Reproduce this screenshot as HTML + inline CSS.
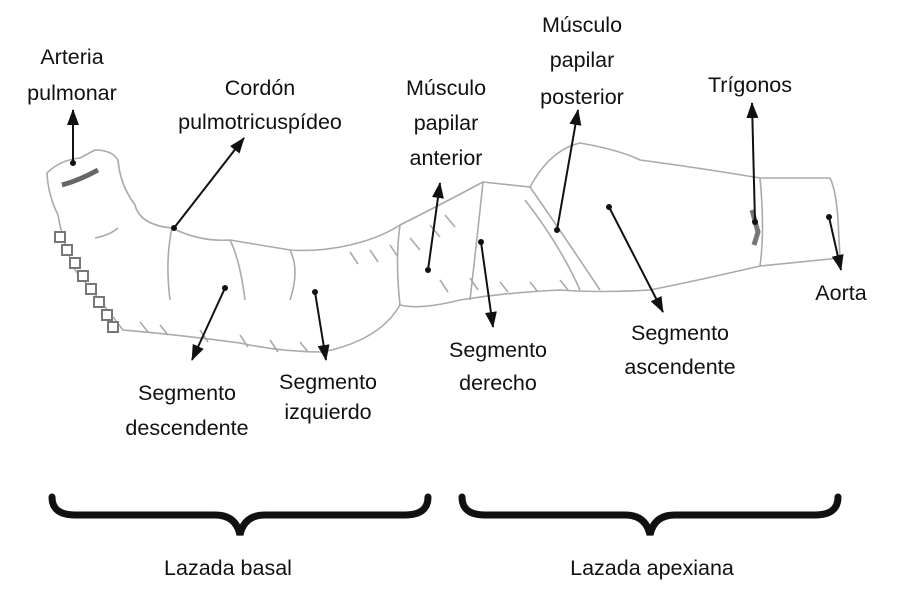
<!DOCTYPE html>
<html><head><meta charset="utf-8"><style>
html,body{margin:0;padding:0;background:#fff;}
svg{display:block;}
text{font-family:"Liberation Sans",sans-serif;font-size:21.5px;fill:#111;text-anchor:middle;}
</style></head><body>
<svg width="900" height="599" viewBox="0 0 900 599" xmlns="http://www.w3.org/2000/svg">
<defs>
<marker id="a" markerWidth="16" markerHeight="12" refX="15" refY="6" orient="auto" markerUnits="userSpaceOnUse">
<path d="M0,0 L16,6 L0,12 z" fill="#111"/></marker>
</defs>
<g fill="none" stroke="#aaa" stroke-width="1.6" stroke-linejoin="round">
<path d="M47,173 Q60,160 80,158 L95,150 Q112,150 118,160 Q120,185 135,205 Q140,225 172,228 Q200,242 230,240 Q260,245 290,250 Q320,252 350,245 Q380,238 400,225 Q440,205 483,182 L530,187 Q550,150 580,143 Q620,150 640,160 Q700,168 760,178 L830,178 Q836,190 838,220 L840,258 Q800,262 760,266 Q700,280 650,290 Q600,293 560,290 Q510,292 460,300 Q420,310 400,305 Q380,340 323,352 Q280,352 240,343 Q180,335 123,330 Q100,300 75,270 Q62,240 58,215 Q48,195 47,173 Z"/>
<path d="M760,178 Q765,230 760,266"/>
<path d="M483,182 Q478,230 470,300"/>
<path d="M400,225 Q395,260 400,305"/>
<path d="M530,187 Q560,230 600,290 M525,200 Q560,245 580,290"/>
<path d="M172,228 Q165,260 170,300 M290,250 Q300,270 290,300 M230,240 Q240,260 245,300"/>
<path d="M430,225 l10,12 M445,215 l10,12 M410,238 l10,12 M390,245 l8,12 M370,250 l8,12 M350,252 l8,12"/>
<path d="M140,322 l8,10 M160,325 l8,10 M200,330 l8,12 M240,335 l8,12 M270,340 l8,12 M300,342 l8,10 M440,280 l8,12 M470,278 l8,12 M500,282 l8,10 M530,282 l8,10 M560,280 l8,10"/>
<path d="M95,238 Q110,235 118,228"/>
</g>
<path d="M62,185 Q80,180 98,170" stroke="#666" stroke-width="5" fill="none"/>
<path d="M752,210 L758,232 L754,245" stroke="#777" stroke-width="5" fill="none"/>
<g fill="#fff" stroke="#777" stroke-width="2">
<rect x="55" y="232" width="10" height="10"/><rect x="62" y="245" width="10" height="10"/><rect x="70" y="258" width="10" height="10"/><rect x="78" y="271" width="10" height="10"/><rect x="86" y="284" width="10" height="10"/><rect x="94" y="297" width="10" height="10"/><rect x="102" y="310" width="10" height="10"/><rect x="108" y="322" width="10" height="10"/>
</g>
<g stroke="#111" stroke-width="2" fill="none" marker-end="url(#a)">
<path d="M73,163 L73,110"/>
<path d="M174,228 L244,138"/>
<path d="M225,288 L192,360"/>
<path d="M315,292 L326,360"/>
<path d="M428,270 L440,183"/>
<path d="M481,242 L493,327"/>
<path d="M557,230 L578,110"/>
<path d="M609,207 L663,312"/>
<path d="M755,222 L752,103"/>
<path d="M829,217 L841,270"/>
</g>
<g fill="#111">
<circle cx="73" cy="163" r="3"/><circle cx="174" cy="228" r="3"/><circle cx="225" cy="288" r="3"/><circle cx="315" cy="292" r="3"/><circle cx="428" cy="270" r="3"/><circle cx="481" cy="242" r="3"/><circle cx="557" cy="230" r="3"/><circle cx="609" cy="207" r="3"/><circle cx="755" cy="222" r="3"/><circle cx="829" cy="217" r="3"/>
</g>
<text x="72" y="64">Arteria</text><text x="72" y="100">pulmonar</text>
<text x="260" y="95">Cordón</text><text x="260" y="129">pulmotricuspídeo</text>
<text x="446" y="95">Músculo</text><text x="446" y="130">papilar</text><text x="446" y="165">anterior</text>
<text x="582" y="32">Músculo</text><text x="582" y="67">papilar</text><text x="582" y="104">posterior</text>
<text x="750" y="92">Trígonos</text>
<text x="841" y="300">Aorta</text>
<text x="498" y="357">Segmento</text><text x="498" y="390">derecho</text>
<text x="680" y="340">Segmento</text><text x="680" y="374">ascendente</text>
<text x="187" y="400">Segmento</text><text x="187" y="435">descendente</text>
<text x="328" y="389">Segmento</text><text x="328" y="419">izquierdo</text>
<g stroke="#111" stroke-width="7" fill="none" stroke-linecap="round">
<path d="M52,497 Q52,515 75,515 L215,515 Q236,515 240,535 Q244,515 265,515 L405,515 Q428,515 428,497"/>
<path d="M462,497 Q462,515 485,515 L625,515 Q646,515 650,535 Q654,515 675,515 L815,515 Q838,515 838,497"/>
</g>
<text x="228" y="575">Lazada basal</text>
<text x="652" y="575">Lazada apexiana</text>
</svg>
</body></html>
